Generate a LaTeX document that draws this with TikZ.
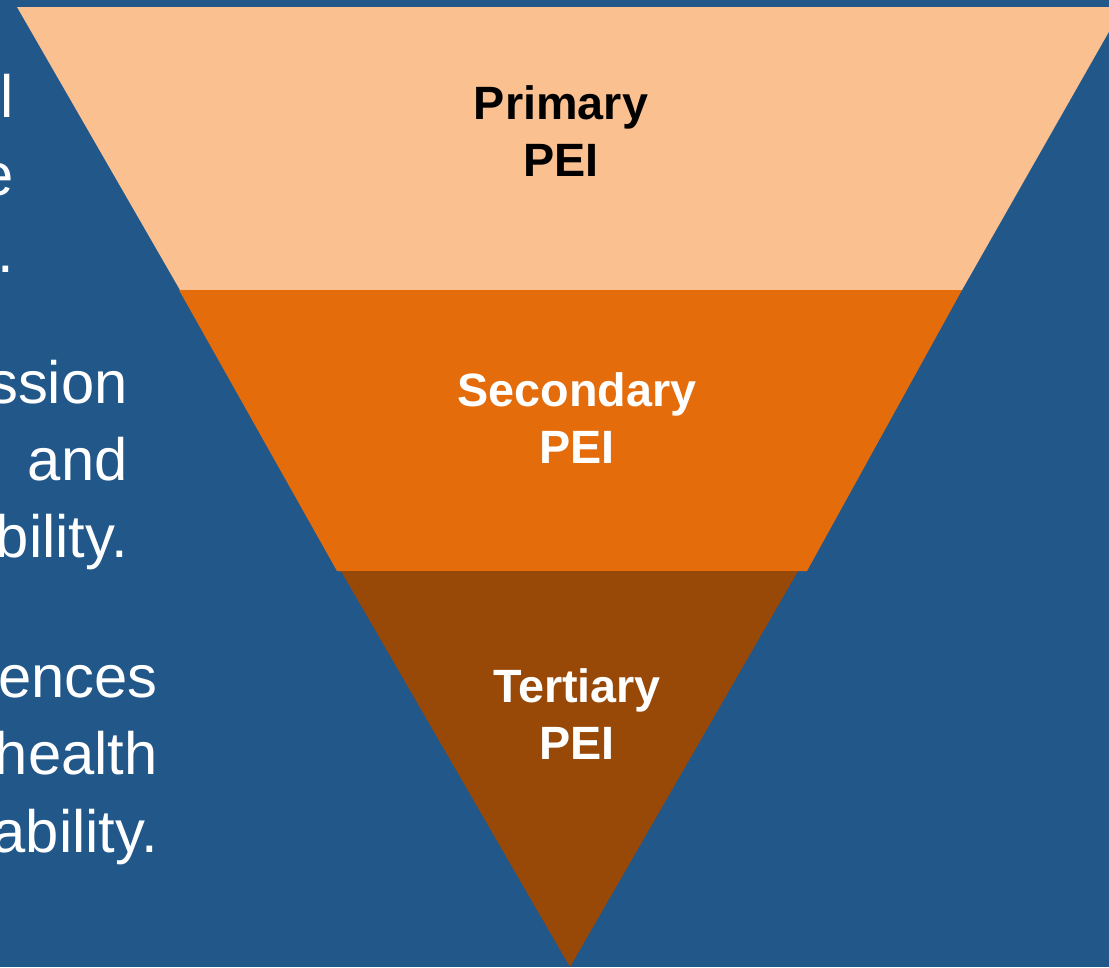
\documentclass[tikz,border=0pt]{standalone}
\usepackage{fontspec}
\setmainfont{Liberation Sans}
\definecolor{peiblue}{RGB}{34,87,138}
\definecolor{peilight}{RGB}{250,192,144}
\definecolor{peiorange}{RGB}{228,108,10}
\definecolor{peibrown}{RGB}{152,72,7}

\begin{document}
\begin{tikzpicture}[x=0.02cm, y=-0.02cm,
  bandlabel/.style={font=\fontsize{26.6}{32.3}\selectfont\bfseries, align=center, inner sep=0pt},
  sidetext/.style={white, font=\fontsize{34}{41}\selectfont, anchor=base east, inner sep=0pt}]
% Background
\fill[peiblue] (0,0) rectangle (1109,967);
\useasboundingbox (0,0) rectangle (1109,967);
\clip (0,0) rectangle (1109,967);
% Side text, cut off at the left edge
\foreach \word/\ypos in {l/117, e/195, ./272} {
  \node[sidetext] (side-a-\ypos) at (14,\ypos) {\word};
}
\foreach \word/\ypos in {ssion/403, and/480, bility./557} {
  \node[sidetext] (side-b-\ypos) at (128,\ypos) {\word};
}
\foreach \word/\ypos in {ences/697, health/774, ability./852} {
  \node[sidetext] (side-c-\ypos) at (158,\ypos) {\word};
}
% Primary band
\fill[peilight] (17,7) -- (1123,7) -- (962,290) -- (180,290) -- cycle;
% Secondary band
\fill[peiorange] (179,290) -- (962,290) -- (807,571) -- (337,571) -- cycle;
% Tertiary band
\fill[peibrown] (341,571) -- (798,571) -- (570,967) -- cycle;
% Band labels
\node[bandlabel, black] (primary) at (561,131) {Primary\\PEI};
\node[bandlabel, white] (secondary) at (577,418) {Secondary\\PEI};
\node[bandlabel, white] (tertiary) at (577,714) {Tertiary\\PEI};
\end{tikzpicture}
\end{document}
